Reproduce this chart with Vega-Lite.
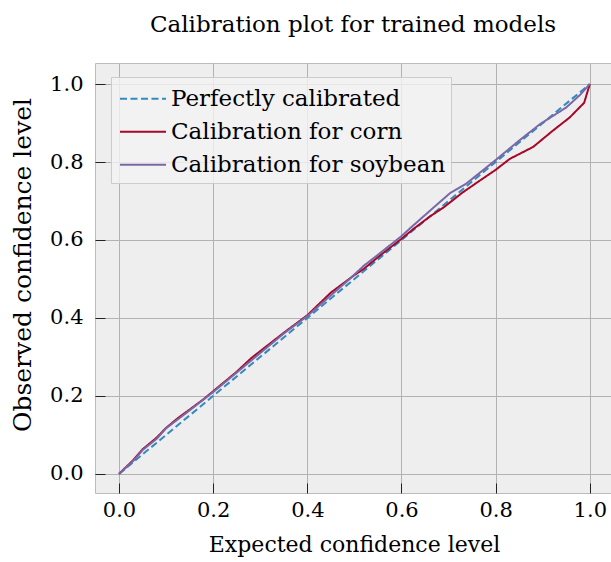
{
  "$schema": "https://vega.github.io/schema/vega-lite/v6.json",
  "width": 516,
  "height": 430,
  "autosize": {"type": "none"},
  "padding": {"left": 95, "top": 63, "right": 0, "bottom": 69},
  "background": "white",
  "title": {"text": "Calibration plot for trained models", "font": "DejaVu Serif", "fontSize": 23, "fontWeight": "normal", "color": "black", "baseline": "alphabetic", "offset": 8.5, "anchor": "middle"},
  "config": {
    "view": {"fill": "#eeeeee", "stroke": "#bcbcbc", "strokeWidth": 1},
    "font": "DejaVu Serif",
    "legend": {
      "orient": "none", "legendX": 16, "legendY": 14, "title": null,
      "fillColor": "rgba(242,242,242,0.8)", "strokeColor": "#cccccc", "padding": 5.7,
      "symbolType": "M-0.847,0H2.22", "symbolSize": 900, "symbolStrokeWidth": 2,
      "labelFont": "DejaVu Serif", "labelFontSize": 23, "labelColor": "black", "labelOffset": 22.3, "labelLimit": 500,
      "rowPadding": 5
    }
  },
  "data": {"values": [
    {"series": "Perfectly calibrated", "expected": 0, "observed": 0},
    {"series": "Perfectly calibrated", "expected": 1, "observed": 1},
    {"series": "Calibration for corn", "expected": 0, "observed": 0},
    {"series": "Calibration for corn", "expected": 0.03, "observed": 0.035},
    {"series": "Calibration for corn", "expected": 0.05, "observed": 0.063},
    {"series": "Calibration for corn", "expected": 0.08, "observed": 0.093},
    {"series": "Calibration for corn", "expected": 0.1, "observed": 0.118},
    {"series": "Calibration for corn", "expected": 0.125, "observed": 0.143},
    {"series": "Calibration for corn", "expected": 0.15, "observed": 0.165},
    {"series": "Calibration for corn", "expected": 0.18, "observed": 0.192},
    {"series": "Calibration for corn", "expected": 0.2, "observed": 0.212},
    {"series": "Calibration for corn", "expected": 0.25, "observed": 0.262},
    {"series": "Calibration for corn", "expected": 0.28, "observed": 0.296},
    {"series": "Calibration for corn", "expected": 0.3, "observed": 0.315},
    {"series": "Calibration for corn", "expected": 0.35, "observed": 0.362},
    {"series": "Calibration for corn", "expected": 0.4, "observed": 0.407},
    {"series": "Calibration for corn", "expected": 0.45, "observed": 0.465},
    {"series": "Calibration for corn", "expected": 0.5, "observed": 0.51},
    {"series": "Calibration for corn", "expected": 0.52, "observed": 0.526},
    {"series": "Calibration for corn", "expected": 0.55, "observed": 0.556},
    {"series": "Calibration for corn", "expected": 0.6, "observed": 0.603},
    {"series": "Calibration for corn", "expected": 0.625, "observed": 0.628},
    {"series": "Calibration for corn", "expected": 0.66, "observed": 0.66},
    {"series": "Calibration for corn", "expected": 0.69, "observed": 0.684},
    {"series": "Calibration for corn", "expected": 0.73, "observed": 0.722},
    {"series": "Calibration for corn", "expected": 0.76, "observed": 0.747},
    {"series": "Calibration for corn", "expected": 0.8, "observed": 0.78},
    {"series": "Calibration for corn", "expected": 0.83, "observed": 0.808},
    {"series": "Calibration for corn", "expected": 0.88, "observed": 0.839},
    {"series": "Calibration for corn", "expected": 0.92, "observed": 0.879},
    {"series": "Calibration for corn", "expected": 0.957, "observed": 0.914},
    {"series": "Calibration for corn", "expected": 0.988, "observed": 0.952},
    {"series": "Calibration for corn", "expected": 1, "observed": 1},
    {"series": "Calibration for soybean", "expected": 0, "observed": 0},
    {"series": "Calibration for soybean", "expected": 0.03, "observed": 0.033},
    {"series": "Calibration for soybean", "expected": 0.05, "observed": 0.061},
    {"series": "Calibration for soybean", "expected": 0.08, "observed": 0.09},
    {"series": "Calibration for soybean", "expected": 0.1, "observed": 0.117},
    {"series": "Calibration for soybean", "expected": 0.125, "observed": 0.14},
    {"series": "Calibration for soybean", "expected": 0.15, "observed": 0.163},
    {"series": "Calibration for soybean", "expected": 0.2, "observed": 0.21},
    {"series": "Calibration for soybean", "expected": 0.25, "observed": 0.26},
    {"series": "Calibration for soybean", "expected": 0.3, "observed": 0.31},
    {"series": "Calibration for soybean", "expected": 0.35, "observed": 0.36},
    {"series": "Calibration for soybean", "expected": 0.4, "observed": 0.405},
    {"series": "Calibration for soybean", "expected": 0.45, "observed": 0.458},
    {"series": "Calibration for soybean", "expected": 0.49, "observed": 0.5},
    {"series": "Calibration for soybean", "expected": 0.52, "observed": 0.534},
    {"series": "Calibration for soybean", "expected": 0.55, "observed": 0.562},
    {"series": "Calibration for soybean", "expected": 0.6, "observed": 0.61},
    {"series": "Calibration for soybean", "expected": 0.62, "observed": 0.632},
    {"series": "Calibration for soybean", "expected": 0.667, "observed": 0.682},
    {"series": "Calibration for soybean", "expected": 0.703, "observed": 0.72},
    {"series": "Calibration for soybean", "expected": 0.738, "observed": 0.745},
    {"series": "Calibration for soybean", "expected": 0.77, "observed": 0.776},
    {"series": "Calibration for soybean", "expected": 0.802, "observed": 0.807},
    {"series": "Calibration for soybean", "expected": 0.85, "observed": 0.855},
    {"series": "Calibration for soybean", "expected": 0.894, "observed": 0.897},
    {"series": "Calibration for soybean", "expected": 0.95, "observed": 0.94},
    {"series": "Calibration for soybean", "expected": 0.979, "observed": 0.972},
    {"series": "Calibration for soybean", "expected": 1, "observed": 1}
  ]},
  "mark": {"type": "line", "strokeWidth": 2, "clip": true},
  "encoding": {
    "x": {
      "field": "expected", "type": "quantitative",
      "scale": {"domain": [-0.051, 1.045], "nice": false, "zero": false},
      "axis": {
        "values": [0, 0.2, 0.4, 0.6, 0.8, 1.0], "format": ".1f",
        "title": "Expected confidence level",
        "grid": true, "gridColor": "#b2b2b2", "gridWidth": 1, "domain": false,
        "tickSize": -10, "tickColor": "#222222", "tickWidth": 1,
        "labelPadding": 16, "labelFont": "DejaVu Serif", "labelFontSize": 21, "labelColor": "black",
        "titleFont": "DejaVu Serif", "titleFontSize": 22, "titleFontWeight": "normal", "titleColor": "black",
        "titleX": 259, "titleY": 58, "titleBaseline": "alphabetic"
      }
    },
    "y": {
      "field": "observed", "type": "quantitative",
      "scale": {"domain": [-0.049, 1.054], "nice": false, "zero": false},
      "axis": {
        "values": [0, 0.2, 0.4, 0.6, 0.8, 1.0], "format": ".1f",
        "title": "Observed confidence level",
        "grid": true, "gridColor": "#b2b2b2", "gridWidth": 1, "domain": false,
        "tickSize": -10, "tickColor": "#222222", "tickWidth": 1,
        "labelPadding": 22, "labelFont": "DejaVu Serif", "labelFontSize": 21, "labelColor": "black",
        "titleFont": "DejaVu Serif", "titleFontSize": 25, "titleFontWeight": "normal", "titleColor": "black",
        "titleX": -73, "titleY": 201.5, "titleBaseline": "middle"
      }
    },
    "color": {
      "field": "series", "type": "nominal",
      "scale": {"domain": ["Perfectly calibrated", "Calibration for corn", "Calibration for soybean"], "range": ["#348ABD", "#A60628", "#7A68A6"]},
      "legend": {"title": null}
    },
    "strokeDash": {
      "field": "series", "type": "nominal",
      "scale": {"domain": ["Perfectly calibrated", "Calibration for corn", "Calibration for soybean"], "range": [[7, 3.5], [1, 0], [1, 0]]},
      "legend": {"title": null}
    }
  }
}
